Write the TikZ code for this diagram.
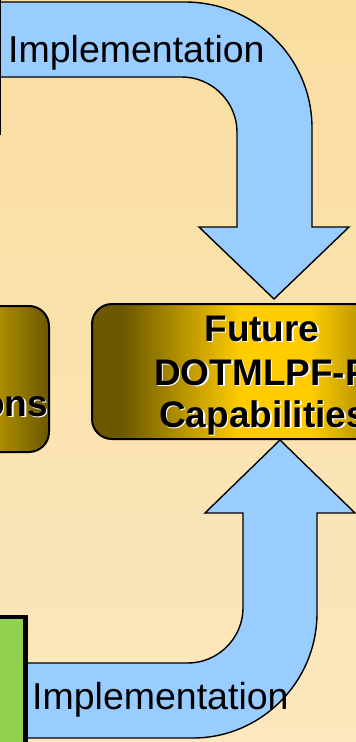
\documentclass[tikz,border=0pt]{standalone}
\usepackage{fontspec}
\setmainfont{Liberation Sans}
\definecolor{bgtop}{RGB}{249,222,160}
\definecolor{bgbot}{RGB}{252,231,190}
\definecolor{arrowblue}{RGB}{153,204,255}
\definecolor{olivedark}{RGB}{107,88,0}
\definecolor{goldbright}{RGB}{255,204,0}
\definecolor{leafgreen}{RGB}{146,208,80}
\pgfdeclarehorizontalshading{capshade}{100bp}{color(0bp)=(olivedark); color(29.5bp)=(olivedark); color(47.5bp)=(goldbright); color(58bp)=(goldbright); color(75bp)=(olivedark); color(100bp)=(olivedark)}
\tikzset{
  blockarrow/.style={fill=arrowblue, draw=black, line width=1.4pt, line join=miter},
  capbox/.style={shading=capshade, draw=black, line width=2pt, rounded corners=20pt},
  boldlabel/.style={font=\bfseries\fontsize{37}{44}\selectfont, inner sep=0pt, anchor=base, text=black},
  glowlabel/.style={boldlabel, text=white},
  implabel/.style={font=\fontsize{37.5}{45}\selectfont, inner sep=0pt, anchor=base west, text=black},
}
\begin{document}
\begin{tikzpicture}[x=1pt,y=-1pt]
\useasboundingbox (0,0) rectangle (356,742);
\clip (0,0) rectangle (356,742);
% background
\shade[top color=bgtop, bottom color=bgbot] (0,0) rectangle (356,742);

% edge of an element cut off at the left
\coordinate (edgetop) at (0.8,0);
\coordinate (edgebot) at (0.8,135);
\draw[line width=1.4pt] (edgetop) -- (edgebot);

% left (cut off) box
\shadedraw[capbox] (-281,306) rectangle (49,452);
\node[glowlabel, anchor=base east] (leftglow) at (49.5,417.5) {ons};
\node[boldlabel, anchor=base east] (lefttext) at (48,416) {ons};

% right box
\shadedraw[capbox] (92,304) rectangle (422,439);
\node[glowlabel] (fut1g) at (263.5,342.5) {Future};
\node[boldlabel] (fut1) at (262,341) {Future};
\node[glowlabel] (fut2g) at (263.5,386.5) {DOTMLPF-P};
\node[boldlabel] (fut2) at (262,385) {DOTMLPF-P};
\node[glowlabel] (fut3g) at (264.5,428.5) {Capabilities};
\node[boldlabel] (fut3) at (263,427) {Capabilities};

% top block arrow
\draw[blockarrow] (-2,2) -- (185,2) .. controls (255,2) and (312,58) .. (312,128)
  -- (312,227) -- (349,227) -- (274,299) -- (199,227) -- (237,227) -- (237,132)
  .. controls (237,102) and (212,77) .. (182,77) -- (-2,77) -- cycle;
\draw[line width=1.4pt] (0.8,2) -- (0.8,77);
\node[implabel] (imptop) at (8,62) {Implementation};

% bottom block arrow
\draw[blockarrow] (20,663) -- (188,663) .. controls (218,663) and (243,638) .. (243,608)
  -- (243,513) -- (205,513) -- (280,440) -- (355,513) -- (317,513) -- (317,613)
  .. controls (317,682) and (261,738) .. (193,738) -- (20,738) -- cycle;
\node[implabel] (impbot) at (32,709) {Implementation};

% green box (cut off)
\draw[fill=leafgreen, line width=4.5pt] (-20,617) rectangle (25.5,780);
\end{tikzpicture}
\end{document}
